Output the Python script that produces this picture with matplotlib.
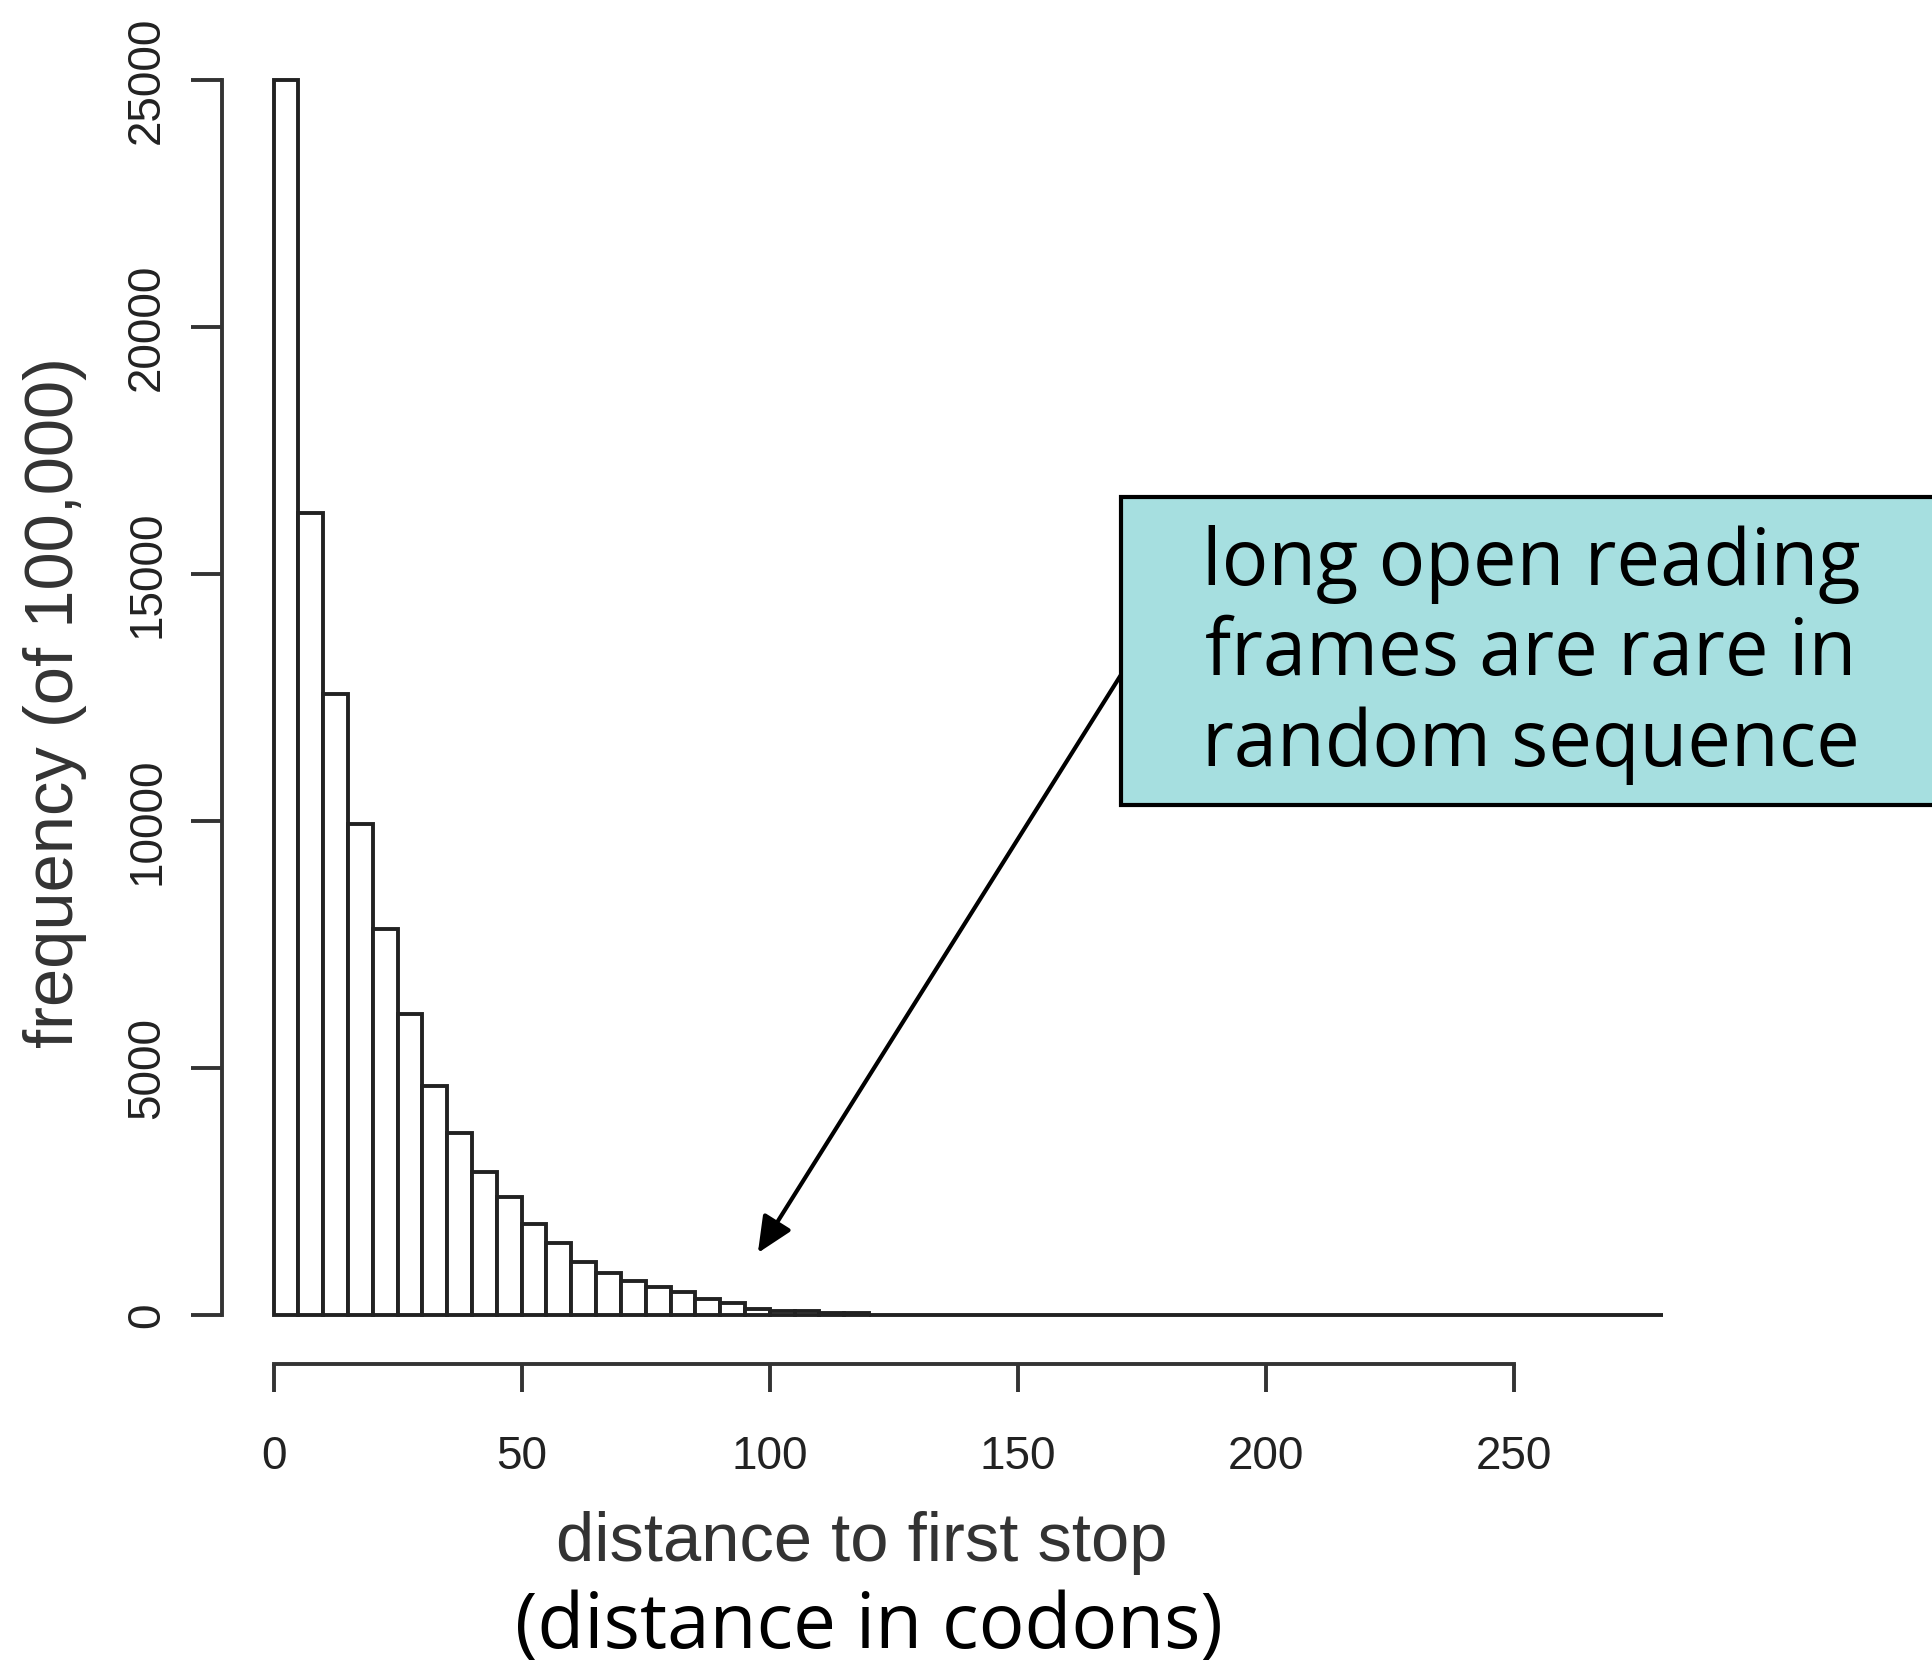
import numpy as np
import matplotlib
matplotlib.use("Agg")
import matplotlib.pyplot as plt
from matplotlib.patches import Rectangle

# histogram of distance to first stop codon (bins of 5 codons), counts of 100,000
bin_width = 5
counts_head = [25000, 16230, 12570, 9930, 7820, 6100, 4640, 3690, 2900, 2390,
               1850, 1460, 1070, 845, 690, 570, 460, 320, 235, 130,
               90, 80, 40, 30]
n_empty = 32  # empty bins out to 280
counts = counts_head + [0] * n_empty
edges = np.arange(len(counts) + 1) * bin_width

x_ticks = [0, 50, 100, 150, 200, 250]
y_ticks = [0, 5000, 10000, 15000, 20000, 25000]

XLABEL = "distance to first stop"
XLABEL2 = "(distance in codons)"
YLABEL = "frequency (of 100,000)"
NOTE = "long open reading\nframes are rare in\nrandom sequence"
arrow_tip = (97.6, 1255)

axis_col = "#333333"
sans = ["Liberation Sans", "DejaVu Sans"]
casual = ["Open Sans", "DejaVu Sans"]

fig = plt.figure(figsize=(19.32, 16.64), dpi=100)
ax = fig.add_axes([0.1149, 0.1803, 0.7715, 0.8013])

ax.bar(edges[:-1], counts, width=bin_width, align="edge",
       facecolor="white", edgecolor="#222222", linewidth=2.8)

ax.set_xlim(-10.4, 290)
ax.set_ylim(-992, 26000)

for s in ["top", "right"]:
    ax.spines[s].set_visible(False)
ax.spines["left"].set_bounds(0, 25000)
ax.spines["bottom"].set_bounds(0, 250)
for s in ["left", "bottom"]:
    ax.spines[s].set_linewidth(2.8)
    ax.spines[s].set_color(axis_col)

ax.set_xticks(x_ticks)
ax.set_yticks(y_ticks)
ax.tick_params(axis="x", length=20, width=2.8, color=axis_col, pad=31,
               labelsize=33, labelcolor="#222222")
ax.tick_params(axis="y", length=22, width=2.8, color=axis_col, pad=16,
               labelsize=33, labelcolor="#222222", labelrotation=90)
for lab in ax.get_xticklabels() + ax.get_yticklabels():
    lab.set_family(sans)
for lab in ax.get_yticklabels():
    lab.set_va("center")

fig.text(0.446, 0.0617, XLABEL, ha="center", va="baseline",
         fontsize=49.5, color="#333333", family=sans)
fig.text(0.0285, 0.578, YLABEL, ha="center", va="center", rotation=90,
         fontsize=49.5, color="#333333", family=sans)
fig.text(0.4498, 0.022, XLABEL2, ha="center", va="center",
         fontsize=55, color="black", family=casual)

# callout box
fig.add_artist(Rectangle((0.5802, 0.5162), 0.43, 0.1851, transform=fig.transFigure,
                         facecolor="#a6dfe0", edgecolor="black", linewidth=3,
                         clip_on=False))
fig.text(0.7925, 0.6066, NOTE, ha="center", va="center", fontsize=56,
         linespacing=1.19, color="black", family=casual)

ax.annotate("", xy=arrow_tip, xycoords="data",
            xytext=(0.5802, 0.5944), textcoords="figure fraction",
            arrowprops=dict(arrowstyle="-|>,head_length=2.2,head_width=1.0",
                            mutation_scale=10, lw=3, color="black",
                            shrinkA=0, shrinkB=0),
            annotation_clip=False)

fig.savefig("out.png", dpi=100)
